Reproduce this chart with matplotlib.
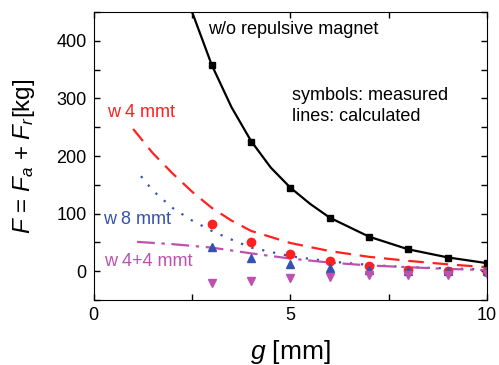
import matplotlib
matplotlib.use("Agg")
import matplotlib.pyplot as plt
from matplotlib.ticker import MultipleLocator

plt.rcParams['font.family'] = ['Liberation Sans', 'DejaVu Sans']
plt.rcParams['mathtext.fontset'] = 'custom'
plt.rcParams['mathtext.rm'] = 'Liberation Sans'
plt.rcParams['mathtext.it'] = 'Liberation Sans:italic'

# measured gaps [mm]
g_meas = [3, 4, 5, 6, 7, 8, 9, 10]
# measured forces [kg]
wo_meas = [358, 224, 144, 92, 59, 38, 23, 14]
w4_meas = [82, 50, 30, 17, 9, 3, 0, -1]
w8_meas = [42, 23, 12, 6, 3, 1, 0, 0]
w44_meas = [-20, -17, -12, -10, -7, -6, -6, -4]

# calculated curves
g_wo = [2.5, 3, 3.5, 4, 4.5, 5, 5.5, 6, 7, 8, 9, 10]
wo_calc = [450, 358, 285, 226, 180, 145, 117, 93, 60, 38, 24, 14]
g_w4 = [1, 1.5, 2, 2.5, 3, 3.5, 4, 5, 6, 7, 8, 9, 10]
w4_calc = [247, 205, 170, 138, 110, 88, 70, 49, 35, 25, 18, 12, 7]
g_w8 = [1.2, 1.5, 2, 2.5, 3, 3.5, 4, 5, 6, 7, 8, 9, 10]
w8_calc = [165, 140, 110, 88, 70, 55, 41, 26, 17, 11, 7, 5, 3]
g_w44 = [1.1, 2, 3, 4, 5, 6, 7, 8, 9, 10]
w44_calc = [51, 47, 41, 31, 22, 15, 10, 7, 4, 2]

red = '#ff2020'
blue = '#3552b0'
mag = '#c050b0'

fig = plt.figure(figsize=(4.99, 3.65), dpi=100)
ax = fig.add_axes([0.188, 0.178, 0.788, 0.789])

ax.plot(g_wo, wo_calc, color='black', lw=1.6)
ax.plot(g_w4, w4_calc, color=red, lw=1.6, ls=(0, (7, 4)))
ax.plot(g_w8, w8_calc, color=blue, lw=1.6, ls=(0, (1, 4)))
ax.plot(g_w44, w44_calc, color=mag, lw=1.6, ls=(0, (8, 3, 1.5, 3)))

ax.plot(g_meas, wo_meas, 's', color='black', ms=5)
ax.plot(g_meas, w4_meas, 'o', color=red, ms=6)
ax.plot(g_meas, w8_meas, '^', color=blue, ms=6)
ax.plot(g_meas, w44_meas, 'v', color=mag, ms=6)

ax.set_xlim(0, 10)
ax.set_ylim(-50, 450)
ax.xaxis.set_major_locator(MultipleLocator(5))
ax.xaxis.set_minor_locator(MultipleLocator(2.5))
ax.yaxis.set_major_locator(MultipleLocator(100))
ax.yaxis.set_minor_locator(MultipleLocator(50))
ax.tick_params(which='both', direction='in', top=True, right=True, length=4, width=1)
ax.tick_params(labelsize=13, pad=5)

ax.text(2.9, 420, 'w/o repulsive magnet', fontsize=13, va='center')
ax.text(5.05, 305, 'symbols: measured', fontsize=13, va='center')
ax.text(5.05, 268, 'lines: calculated', fontsize=13, va='center')
ax.text(0.33, 275, 'w 4 mmt', fontsize=13, color=red, va='center')
ax.text(0.23, 90, 'w 8 mmt', fontsize=13, color=blue, va='center')
ax.text(0.25, 17, 'w 4+4 mmt', fontsize=13, color=mag, va='center')

ax.set_xlabel('$g$ [mm]', fontsize=19, labelpad=10)
ax.set_ylabel('$F$ = $F_a$ + $F_r$[kg]', fontsize=17.5, labelpad=14)

plt.savefig('out.png', dpi=100)
